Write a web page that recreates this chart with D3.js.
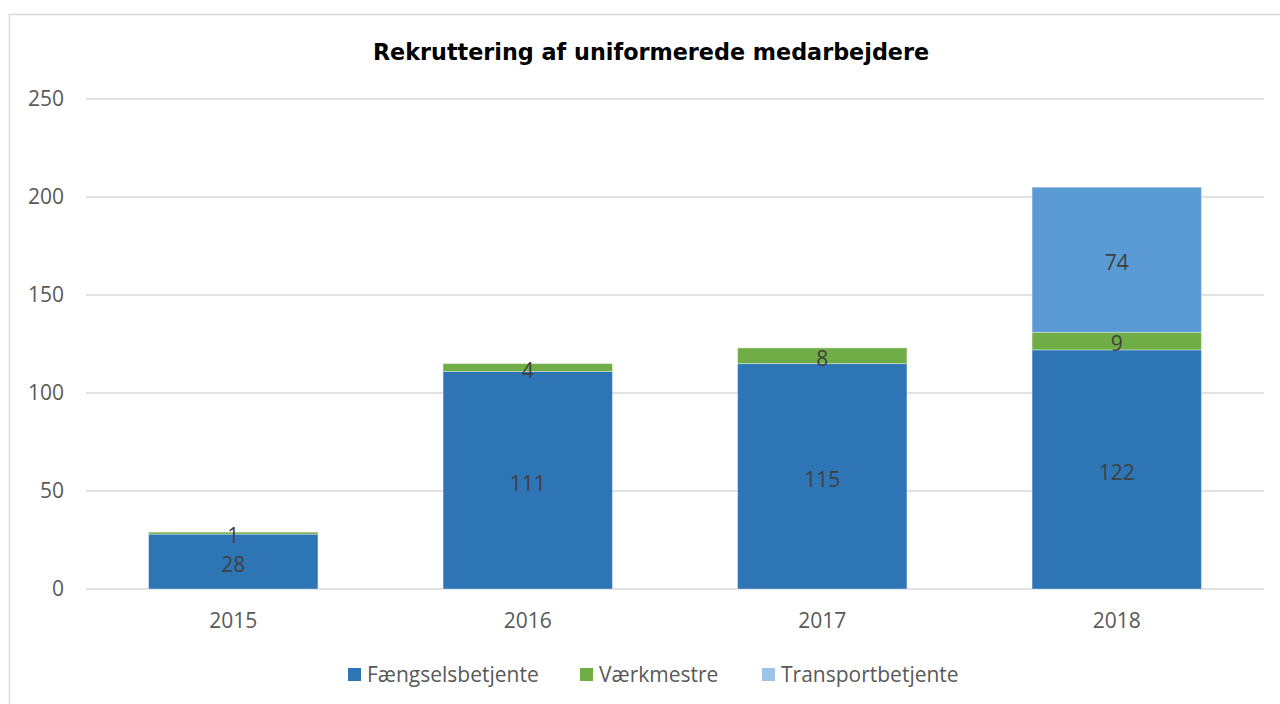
<!DOCTYPE html>
<html>
<head>
<meta charset="utf-8">
<script src="https://cdn.jsdelivr.net/npm/d3@7"></script>
<style>
  body { margin: 0; background: #fff; }
  svg { display: block; }
</style>
</head>
<body>
<div id="chart"></div>
<script>
const years = ["2015", "2016", "2017", "2018"];
const fangselsbetjente = [28, 111, 115, 122];
const vaerkmestre = [1, 4, 8, 9];
const transportbetjente = [0, 0, 0, 74];
const yTicks = [0, 50, 100, 150, 200, 250];
const seriesNames = ["Fængselsbetjente", "Værkmestre", "Transportbetjente"];

const width = 1280;
const height = 704;
const margin = { top: 99, right: 16, bottom: 115, left: 86 };

const colors = ["#2E75B6", "#70AD47", "#5B9BD5"];
const legendColors = ["#2E75B6", "#70AD47", "#9DC3E6"];

const rows = years.map((y, i) => ({
  year: y,
  "Fængselsbetjente": fangselsbetjente[i],
  "Værkmestre": vaerkmestre[i],
  "Transportbetjente": transportbetjente[i]
}));

const stacked = d3.stack().keys(seriesNames)(rows);

const svg = d3.select("#chart")
  .append("svg")
  .attr("width", width)
  .attr("height", height);

// outer frame
svg.append("rect")
  .attr("x", 9.5)
  .attr("y", 14.5)
  .attr("width", 1300)
  .attr("height", 720)
  .attr("fill", "none")
  .attr("stroke", "#d9d9d9")
  .attr("stroke-width", 1.5);

const x = d3.scaleBand()
  .domain(years)
  .range([margin.left, width - margin.right])
  .paddingInner(0.425)
  .paddingOuter(0.2125);

const y = d3.scaleLinear()
  .domain([0, 250])
  .range([height - margin.bottom, margin.top]);

// gridlines
svg.append("g")
  .selectAll("line")
  .data(yTicks)
  .enter()
  .append("line")
  .attr("x1", margin.left)
  .attr("x2", width - margin.right)
  .attr("y1", d => y(d))
  .attr("y2", d => y(d))
  .attr("stroke", "#d9d9d9")
  .attr("stroke-width", 1.5);

// y tick labels
svg.append("g")
  .selectAll("text")
  .data(yTicks)
  .enter()
  .append("text")
  .attr("x", 64)
  .attr("y", d => y(d))
  .attr("dy", "0.35em")
  .attr("text-anchor", "end")
  .attr("font-family", "'Open Sans', sans-serif")
  .attr("font-size", 21)
  .attr("fill", "#595959")
  .text(d => d);

// x tick labels
svg.append("g")
  .selectAll("text")
  .data(years)
  .enter()
  .append("text")
  .attr("x", d => x(d) + x.bandwidth() / 2)
  .attr("y", 621)
  .attr("dy", "0.35em")
  .attr("text-anchor", "middle")
  .attr("font-family", "'Open Sans', sans-serif")
  .attr("font-size", 21)
  .attr("fill", "#595959")
  .text(d => d);

// bars
const layers = svg.append("g")
  .selectAll("g")
  .data(stacked)
  .enter()
  .append("g")
  .attr("fill", (d, i) => colors[i]);

layers.selectAll("rect")
  .data(d => d.filter(p => p[1] - p[0] > 0))
  .enter()
  .append("rect")
  .attr("x", d => x(d.data.year))
  .attr("y", d => y(d[1]))
  .attr("width", x.bandwidth())
  .attr("height", d => y(d[0]) - y(d[1]))
  .attr("stroke", "#ffffff")
  .attr("stroke-opacity", 0.35)
  .attr("stroke-width", 1);

// value labels
layers.selectAll("text")
  .data(d => d.filter(p => p[1] - p[0] > 0))
  .enter()
  .append("text")
  .attr("x", d => x(d.data.year) + x.bandwidth() / 2)
  .attr("y", d => (y(d[0]) + y(d[1])) / 2 + 3)
  .attr("dy", "0.35em")
  .attr("text-anchor", "middle")
  .attr("font-family", "'Open Sans', sans-serif")
  .attr("font-size", 21)
  .attr("fill", "#404040")
  .text(d => d[1] - d[0]);

// title
svg.append("text")
  .attr("x", 651)
  .attr("y", 60)
  .attr("text-anchor", "middle")
  .attr("font-family", "'DejaVu Sans', sans-serif")
  .attr("font-weight", "bold")
  .attr("font-size", 22.3)
  .attr("fill", "#000")
  .text("Rekruttering af uniformerede medarbejdere");

// legend
const legendX = [348, 580, 762];
const legend = svg.append("g")
  .selectAll("g")
  .data(seriesNames)
  .enter()
  .append("g")
  .attr("transform", (d, i) => `translate(${legendX[i]},668)`);

legend.append("rect")
  .attr("width", 13)
  .attr("height", 13)
  .attr("fill", (d, i) => legendColors[i]);

legend.append("text")
  .attr("x", 19)
  .attr("y", 7)
  .attr("dy", "0.35em")
  .attr("font-family", "'Open Sans', sans-serif")
  .attr("font-size", 21)
  .attr("fill", "#595959")
  .text(d => d);
</script>
</body>
</html>
